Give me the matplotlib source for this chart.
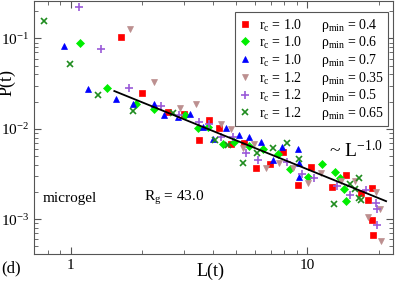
import matplotlib
matplotlib.use('Agg')
import matplotlib.pyplot as plt
from matplotlib.ticker import FixedLocator, FixedFormatter, NullFormatter

plt.rcParams['font.family'] = ['Liberation Serif', 'DejaVu Serif']
plt.rcParams['mathtext.fontset'] = 'custom'
plt.rcParams['mathtext.rm'] = 'Liberation Serif'
plt.rcParams['mathtext.it'] = 'Liberation Serif:italic'
plt.rcParams['mathtext.default'] = 'regular'

# r_c = 1.0, rho_min = 0.4
L_a = [1.64, 2.01, 2.57, 3.00, 3.50, 3.86, 4.25, 4.78, 5.42, 6.09, 6.98, 7.92, 9.16,
       10.4, 12.7, 14.6, 16.9, 18.1, 18.8, 18.8, 19.0]
P_a = [0.105, 0.0247, 0.0152, 0.0144, 0.00746, 0.0124, 0.0101, 0.00674, 0.00692,
       0.00366, 0.00406, 0.00550, 0.00238, 0.00376, 0.00226, 0.00306, 0.00194,
       0.00162, 0.00220, 0.000975, 0.000666]
# r_c = 1.0, rho_min = 0.6
L_b = [1.10, 1.42, 1.88, 2.24, 3.03, 3.44, 3.82, 4.42, 4.92, 5.69, 6.52, 7.55, 8.47,
       10.1, 11.5, 13.1, 13.8, 14.3, 14.5]
P_b = [0.0881, 0.0281, 0.0187, 0.0164, 0.0141, 0.0101, 0.0104, 0.00674, 0.00710,
       0.00641, 0.00593, 0.00522, 0.00357, 0.00291, 0.00406, 0.00331, 0.00284,
       0.00214, 0.00158]
# r_c = 1.0, rho_min = 0.7
L_c = [0.94, 1.19, 1.56, 1.84, 2.24, 2.49, 2.83, 3.18, 3.61, 4.01, 4.55, 5.12, 5.69,
       6.34, 7.19, 7.85, 9.16, 9.25, 9.25]
P_c = [0.0816, 0.0273, 0.0212, 0.0187, 0.0187, 0.0141, 0.0134, 0.0144, 0.0104,
       0.00766, 0.0101, 0.00848, 0.00805, 0.00710, 0.00449, 0.00625, 0.00593,
       0.00416, 0.00291]
# r_c = 1.2, rho_min = 0.35
L_d = [1.79, 2.26, 2.91, 3.37, 4.30, 4.78, 5.37, 5.97, 6.71, 7.62, 8.73, 10.1, 11.4,
       13.9, 15.9, 19.5, 20.3, 18.1, 20.5]
P_d = [0.126, 0.0327, 0.0169, 0.0187, 0.0112, 0.00987, 0.00610, 0.00674, 0.00366,
       0.00416, 0.00366, 0.00250, 0.00322, 0.00263, 0.00263, 0.00199, 0.00129,
       0.00105, 0.000571]
# r_c = 1.2, rho_min = 0.5
L_e = [1.09, 1.34, 1.77, 2.42, 2.88, 3.47, 3.86, 4.30, 4.87, 5.53, 6.21, 8.24, 9.52,
       10.7, 13.3, 15.2, 17.7, 19.4, 19.7, 19.7]
P_e = [0.226, 0.0756, 0.0281, 0.0177, 0.0141, 0.0118, 0.0112, 0.00805, 0.00805,
       0.00536, 0.00449, 0.00427, 0.00314, 0.00284, 0.00232, 0.00184, 0.00209,
       0.00150, 0.00129, 0.000859]
# r_c = 1.2, rho_min = 0.65
L_f = [0.77, 0.99, 1.31, 1.83, 2.72, 4.09, 4.64, 5.37, 6.15, 7.19, 8.24, 9.25, 13.0,
       15.2, 15.9, 16.6, 16.6, 16.9]
P_f = [0.158, 0.0516, 0.0234, 0.0156, 0.0148, 0.00746, 0.00657, 0.00416, 0.00536,
       0.00610, 0.00692, 0.00460, 0.00147, 0.00244, 0.00214, 0.00284, 0.00171,
       0.00162]

# power law guide
L_fit = [1.53, 21.5]
P_fit = [0.0262, 0.00158]

rc = ['1.0', '1.0', '1.0', '1.2', '1.2', '1.2']
rho = ['0.4', '0.6', '0.7', '0.35', '0.5', '0.65']
xticks = [1, 10]
xticklabels = ['1', '10']

fig = plt.figure(figsize=(3.99, 2.82), dpi=100)
ax = fig.add_axes([0.085, 0.099, 0.9, 0.899])

series = [(L_a, P_a, 's', '#ff0000', 4.5),
          (L_b, P_b, 'D', '#00ee00', 4.0),
          (L_c, P_c, '^', '#0000ff', 5.0),
          (L_d, P_d, 'v', '#bc8f8f', 5.0),
          (L_e, P_e, '+', '#9a5ad8', 6.0),
          (L_f, P_f, 'x', '#1f8c1f', 4.0)]
for i, (x, y, m, c, ms) in enumerate(series):
    lab = 'r$_{c}$ = ' + rc[i] + '      \u03c1$_{min}$ = ' + rho[i]
    ax.plot(x, y, linestyle='none', marker=m, color=c, markersize=ms,
            markeredgewidth=1.2 if m in '+x' else 0.5, label=lab)

ax.plot(L_fit, P_fit, color='black', lw=1.3)

ax.set_xscale('log')
ax.set_yscale('log')
ax.set_xlim(0.7, 23)
ax.set_ylim(4.1e-4, 0.263)
ax.xaxis.set_major_locator(FixedLocator(xticks))
ax.xaxis.set_major_formatter(FixedFormatter(xticklabels))
ax.xaxis.set_minor_formatter(NullFormatter())

for s in ax.spines.values():
    s.set_color('#555555')
ax.tick_params(which='both', direction='in', top=True, right=True,
               colors='#555555', labelcolor='black', labelsize=11)
ax.tick_params(which='major', length=5)
ax.tick_params(which='minor', length=3)

ax.set_xlabel('L(t)', fontsize=13)
ax.xaxis.set_label_coords(0.493, -0.035)
ax.set_ylabel('P(t)', fontsize=13)
ax.yaxis.set_label_coords(-0.05, 0.677)

ax.text(0.025, 0.22, 'microgel', transform=ax.transAxes, fontsize=11, va='center')
ax.text(0.306, 0.22, 'R$_{g}$ = 43.0', transform=ax.transAxes, fontsize=11, va='center')
ax.text(0.823, 0.41, '~ L$^{-1.0}$', transform=ax.transAxes, fontsize=14, va='center')
fig.text(0.002, 0.05, '(d)', fontsize=12, va='center')

leg = ax.legend(loc='upper right', bbox_to_anchor=(0.986, 0.953), borderaxespad=0,
                fontsize=10, handlelength=0.8, handletextpad=0.6, borderpad=0.3,
                labelspacing=0.05, fancybox=False, framealpha=1)
leg.get_frame().set_edgecolor('#555555')
leg.get_frame().set_linewidth(0.8)

fig.savefig('out.png', dpi=100)
